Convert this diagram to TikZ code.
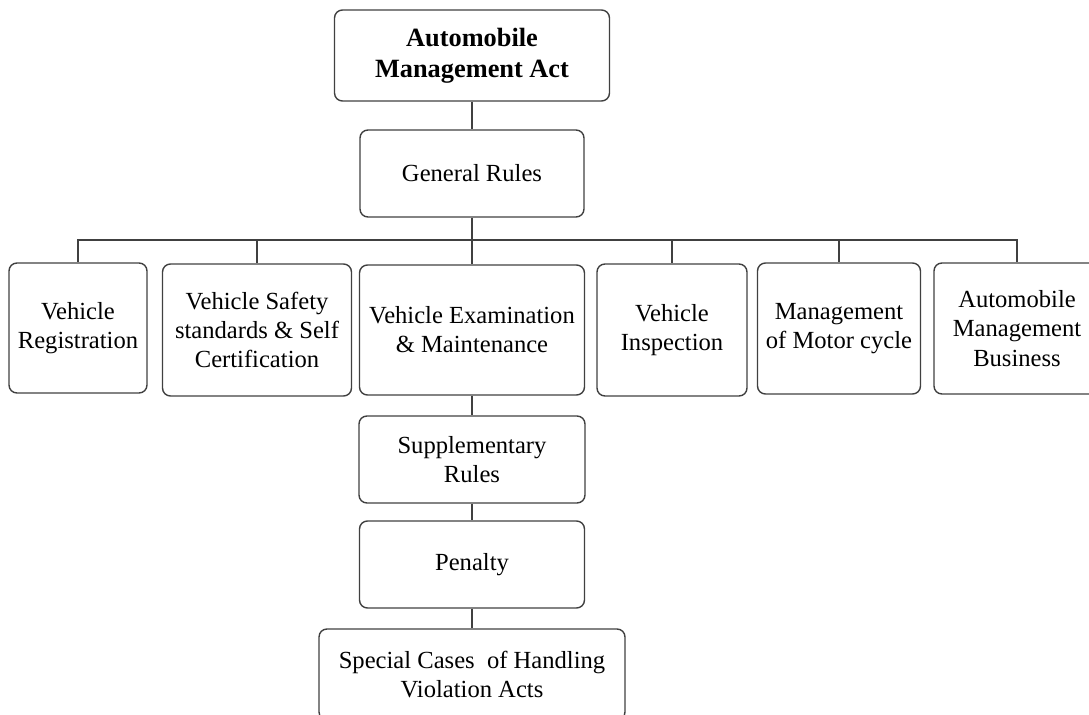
\documentclass[tikz,border=0pt]{standalone}
\usepackage{fontspec}
\setmainfont{Liberation Serif}
\tikzset{
  box/.style={draw=black!75,line width=0.8pt,rounded corners=4.5pt,align=center,
    inner sep=2pt,font=\fontsize{14}{16.6}\selectfont},
  link/.style={draw=black!75,line width=0.8pt}
}
\begin{document}
\begin{tikzpicture}[x=0.02cm,y=-0.02cm]
\useasboundingbox (0,0) rectangle (1089,715);
\node[box,minimum width=5.5cm,minimum height=1.82cm,font=\fontsize{15}{17.6}\selectfont\bfseries] (title) at (472,55.5) {Automobile\\Management Act};
\node[box,minimum width=4.48cm,minimum height=1.74cm] (gen) at (472,173.5) {General Rules};
\coordinate (bus) at (472,240);
\node[box,minimum width=2.76cm,minimum height=2.6cm] (reg) at (78,328) {Vehicle\\Registration};
\node[box,minimum width=3.78cm,minimum height=2.64cm] (safety) at (257,330) {Vehicle Safety\\standards \& Self\\Certification};
\node[box,minimum width=4.5cm,minimum height=2.6cm] (exam) at (472,330) {Vehicle Examination\\\& Maintenance};
\node[box,minimum width=3cm,minimum height=2.64cm] (insp) at (672,330) {Vehicle\\Inspection};
\node[box,minimum width=3.26cm,minimum height=2.62cm] (moto) at (839,328.5) {Management\\of Motor cycle};
\node[box,minimum width=3.32cm,minimum height=2.62cm] (biz) at (1017,328.5) {Automobile\\Management\\Business};
\node[box,minimum width=4.52cm,minimum height=1.74cm] (supp) at (472,459.5) {Supplementary\\Rules};
\node[box,minimum width=4.5cm,minimum height=1.74cm] (pen) at (472,564.5) {Penalty};
\node[box,minimum width=6.12cm,minimum height=1.82cm] (spec) at (472,674.5) {Special Cases\ \ of Handling\\Violation Acts};
\draw[link] (title)--(gen);
\draw[link] (gen)--(bus)--(exam);
\foreach \b in {reg,safety,insp,moto,biz}
  \draw[link] (bus)-|(\b);
\draw[link] (exam)--(supp);
\draw[link] (supp)--(pen);
\draw[link] (pen)--(spec);
\end{tikzpicture}
\end{document}
